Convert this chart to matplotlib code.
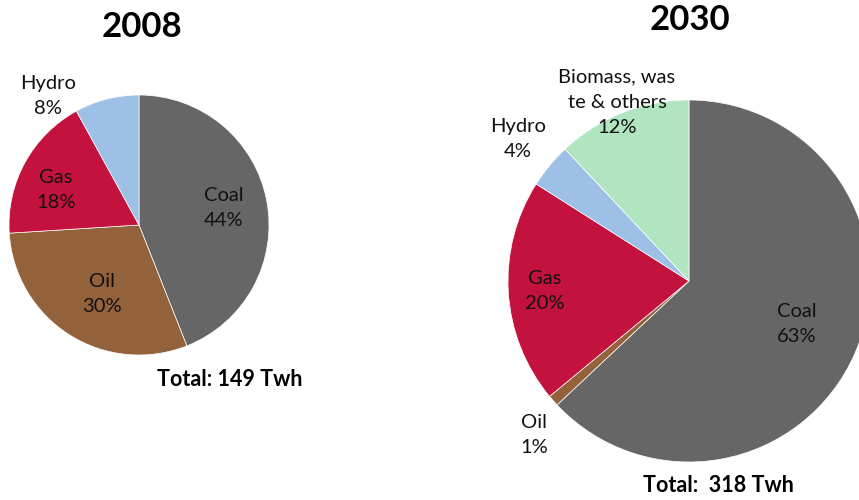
import matplotlib
matplotlib.use("Agg")
import matplotlib.pyplot as plt

plt.rcParams['font.family'] = ['Lato', 'DejaVu Sans']

# Data
cats_2008 = ["Coal", "Oil", "Gas", "Hydro"]
vals_2008 = [44, 30, 18, 8]
cats_2030 = ["Coal", "Oil", "Gas", "Hydro", "Biomass, was\nte & others"]
vals_2030 = [63, 1, 20, 4, 12]
titles = ["2008", "2030"]
totals = ["Total: 149 Twh", "Total:  318 Twh"]

colors = {"Coal": "#666666", "Oil": "#93613A", "Gas": "#C2123D",
          "Hydro": "#9EBFE6", "Biomass, was\nte & others": "#B1E5C0"}

W, H = 859, 500
fig = plt.figure(figsize=(W / 100, H / 100), dpi=100)
ax = fig.add_axes([0, 0, 1, 1])

def py(y):
    return H - y

# pies (pixel geometry)
ax.pie(vals_2008, colors=[colors[c] for c in cats_2008], startangle=90,
       counterclock=False, center=(139, py(225)), radius=130,
       wedgeprops=dict(edgecolor="white", linewidth=0.5))
ax.pie(vals_2030, colors=[colors[c] for c in cats_2030], startangle=90,
       counterclock=False, center=(689, py(281)), radius=181,
       wedgeprops=dict(edgecolor="white", linewidth=0.5))

ax.set_xlim(0, W)
ax.set_ylim(0, H)
ax.set_aspect('auto')
ax.axis('off')

lab_fs = 14.5
# label positions (pixel centres)
pos_2008 = {"Coal": (224, 208), "Oil": (102, 294), "Gas": (56, 190), "Hydro": (48, 96)}
pos_2030 = {"Coal": (797, 324), "Oil": (534, 435), "Gas": (545, 291),
            "Hydro": (518, 139), "Biomass, was\nte & others": (617, 102)}

for cats, vals, pos in [(cats_2008, vals_2008, pos_2008), (cats_2030, vals_2030, pos_2030)]:
    for c, v in zip(cats, vals):
        x, y = pos[c]
        ax.text(x, py(y), f"{c}\n{v}%", ha="center", va="center",
                fontsize=lab_fs, color="#111111", linespacing=1.6)

ax.text(142, py(27), titles[0], ha="center", va="center", fontsize=25, fontweight="bold")
ax.text(690, py(20), titles[1], ha="center", va="center", fontsize=25, fontweight="bold")
ax.text(230, py(380), totals[0], ha="center", va="center", fontsize=15.5, fontweight="bold")
ax.text(718, py(485), totals[1], ha="center", va="center", fontsize=15.5, fontweight="bold")

fig.savefig("out.png", dpi=100)
